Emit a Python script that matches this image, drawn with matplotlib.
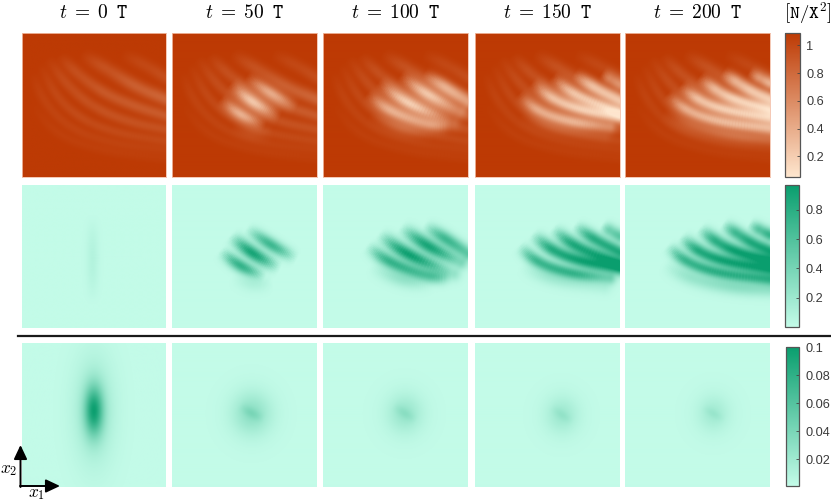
import numpy as np
import matplotlib
matplotlib.use("Agg")
import matplotlib.pyplot as plt
from matplotlib.cm import ScalarMappable
from matplotlib.colors import LinearSegmentedColormap, Normalize

W, H = 831, 504
plt.rcParams['mathtext.fontset'] = 'cm'
plt.rcParams['font.family'] = ['Liberation Sans', 'DejaVu Sans']

titles = ['$t\\;=\\;0\\;\\;\\mathtt{T}$', '$t\\;=\\;50\\;\\;\\mathtt{T}$', '$t\\;=\\;100\\;\\;\\mathtt{T}$',
          '$t\\;=\\;150\\;\\;\\mathtt{T}$', '$t\\;=\\;200\\;\\;\\mathtt{T}$']

# panel edges in pixels
col_edges = [(22, 166), (172, 317), (323, 468), (475, 620), (625, 770)]
row_edges = [(33, 177), (185, 328), (343, 487)]
bar_edges = [(785, 800, 33, 177), (785, 799, 185, 327), (786, 799, 347, 486)]

cmap_top = LinearSegmentedColormap.from_list('top', ['#fee6ce', '#bd3a04'])
cmap_green = LinearSegmentedColormap.from_list('green', ['#c3fbe8', '#0a9e6e'])

top_range = (0.05, 1.09)
mid_range = (0.0, 0.97)
low_range = (0.0008, 0.1)
top_ticks = [0.2, 0.4, 0.6, 0.8, 1]
mid_ticks = [0.2, 0.4, 0.6, 0.8]
low_ticks = [0.02, 0.04, 0.06, 0.08, 0.1]
top_labels = ['0.2', '0.4', '0.6', '0.8', '1']
mid_labels = ['0.2', '0.4', '0.6', '0.8']
low_labels = ['0.02', '0.04', '0.06', '0.08', '0.1']
# how much of the middle row shows up in the top row, per column
top_depth = [0.0, 0.95, 0.95, 0.95, 0.95]

# ridges: (points in panel units, x right / y down), heights, width
arcs_top = [
    ([(.68, .14), (.85, .22), (1.0, .31)], [0, .07, .12], .032),
    ([(.40, .14), (.59, .25), (.80, .38), (1.0, .46)], [0, .10, .21, .26], .034),
    ([(.25, .15), (.38, .28), (.57, .42), (.80, .515), (1.0, .575)], [0, .10, .18, .20, .20], .031),
    ([(.17, .16), (.31, .36), (.50, .52), (.75, .62), (1.0, .67)], [0, .10, .15, .15, .14], .029),
    ([(.12, .20), (.24, .45), (.43, .61), (.68, .70), (1.0, .75)], [0, .08, .11, .10, .09], .027),
    ([(.07, .26), (.15, .48), (.34, .67), (.64, .77), (1.0, .81)], [0, .06, .07, .06, .05], .027),
    ([(.06, .48), (.24, .71), (.57, .82), (1.0, .87)], [0, .04, .04, .03], .027),
]
stripes_0 = [([(.49, .20), (.49, .52), (.49, .84)], [0, .085, 0], .030)]
stripes_50 = [
    ([(.51, .30), (.68, .42), (.865, .52)], [0, .70, 0], .032),
    ([(.40, .35), (.55, .48), (.75, .585)], [0, .90, 0], .035),
    ([(.33, .455), (.47, .57), (.65, .645)], [0, .75, 0], .032),
    ([(.41, .63), (.56, .69), (.70, .675)], [0, .12, 0], .042),
]
stripes_100 = [
    ([(.69, .28), (.85, .38), (1.0, .48)], [0, .70, .45], .034),
    ([(.53, .29), (.72, .43), (.95, .54)], [0, .90, .20], .036),
    ([(.38, .34), (.58, .49), (.90, .62)], [0, .95, .10], .036),
    ([(.30, .42), (.46, .545), (.74, .645), (.90, .64)], [0, .75, .55, 0], .034),
    ([(.32, .56), (.55, .665), (.78, .685)], [0, .25, 0], .040),
]
stripes_150 = [
    ([(.87, .28), (.93, .32), (1.0, .36)], [0, .40, .55], .032),
    ([(.68, .28), (.82, .38), (1.0, .47)], [0, .80, .85], .033),
    ([(.53, .30), (.68, .43), (1.0, .55)], [0, .85, .95], .034),
    ([(.39, .34), (.54, .465), (.75, .54), (1.0, .585)], [0, .80, .95, .80], .034),
    ([(.30, .42), (.43, .545), (.66, .62), (.93, .65)], [0, .70, .75, .30], .032),
    ([(.31, .56), (.54, .655), (.89, .70)], [0, .20, .10], .040),
]
stripes_200 = [
    ([(.85, .27), (.93, .315), (1.0, .35)], [0, .50, .75], .031),
    ([(.67, .27), (.77, .34), (.88, .41), (1.0, .46)], [0, .60, .85, .90], .033),
    ([(.51, .30), (.63, .40), (.77, .47), (1.0, .53)], [0, .70, .95, 1.0], .034),
    ([(.38, .36), (.51, .47), (.70, .54), (1.0, .59)], [0, .80, .95, .95], .034),
    ([(.29, .42), (.42, .54), (.65, .62), (1.0, .66)], [0, .70, .80, .75], .032),
    ([(.26, .55), (.47, .66), (.77, .715), (1.0, .725)], [0, .20, .30, .25], .040),
]
green_stripes = [stripes_0, stripes_50, stripes_100, stripes_150, stripes_200]

# blobs of the last row: centre x, centre y, sigma x, sigma y, height
low_blobs = [
    [(.50, .47, .045, .12, .078), (.50, .47, .10, .26, .020)],
    [(.55, .49, .09, .10, .024), (.55, .49, .14, .15, .004)],
    [(.565, .49, .08, .09, .018), (.565, .49, .13, .14, .004)],
    [(.60, .50, .075, .085, .015), (.60, .50, .12, .13, .004)],
    [(.61, .49, .07, .08, .013), (.61, .49, .12, .13, .004)],
]
low_streaks = [
    [],
    [([(.46, .43), (.55, .49), (.64, .53)], [0, .012, 0], .024)],
    [([(.48, .43), (.565, .49), (.65, .54)], [0, .009, 0], .024)],
    [([(.52, .44), (.60, .50), (.68, .55)], [0, .007, 0], .022)],
    [([(.53, .44), (.61, .49), (.69, .54)], [0, .006, 0], .020)],
]


def chaikin(pts, n=4):
    pts = np.array(pts, float)
    for _ in range(n):
        q = 0.75 * pts[:-1] + 0.25 * pts[1:]
        r = 0.25 * pts[:-1] + 0.75 * pts[1:]
        mid = np.empty((2 * len(q), pts.shape[1]))
        mid[0::2] = q
        mid[1::2] = r
        pts = np.vstack([pts[0], mid, pts[-1]])
    return pts


def ridge_field(ridges, n=145, p=1.5):
    c = (np.arange(n) + .5) / n
    xx, yy = np.meshgrid(c, c)
    out = np.zeros((n, n))
    for pts, heights, width in ridges:
        idx = np.arange(len(pts), dtype=float)
        line = chaikin(np.column_stack([pts, idx]))
        # smooth step between the heights read at the control points
        k = np.clip(np.floor(line[:, 2]).astype(int), 0, len(pts) - 2)
        f = line[:, 2] - k
        f = f * f * (3 - 2 * f)
        hs = np.array(heights, float)
        h = hs[k] * (1 - f) + hs[k + 1] * f
        h = hs.max() * (h / hs.max())**0.6
        d2 = (xx[..., None] - line[:, 0])**2 + (yy[..., None] - line[:, 1])**2
        near = np.argmin(d2, axis=2)
        out += (h[near] * np.exp(-np.min(d2, axis=2) / (2 * width**2)))**p
    return out**(1 / p)


def blob_field(blobs, n=145):
    c = (np.arange(n) + .5) / n
    xx, yy = np.meshgrid(c, c)
    out = np.zeros((n, n))
    for cx, cy, sx, sy, height in blobs:
        out += height * np.exp(-((xx - cx)**2 / (2 * sx**2) + (yy - cy)**2 / (2 * sy**2)))
    return out


def px_axes(fig, x0, x1, y0, y1):
    return fig.add_axes([x0 / W, 1 - y1 / H, (x1 - x0) / W, (y1 - y0) / H])


fig = plt.figure(figsize=(W / 100, H / 100), dpi=100)
background = ridge_field(arcs_top)

for j, (x0, x1) in enumerate(col_edges):
    green = ridge_field(green_stripes[j])
    top = top_range[1] - background * (1 - np.clip(green, 0, 1)) - green * top_depth[j]
    low = low_range[0] + blob_field(low_blobs[j]) + ridge_field(low_streaks[j])
    fields = [top, green, low]
    cmaps = [cmap_top, cmap_green, cmap_green]
    ranges = [top_range, mid_range, low_range]
    for i, (y0, y1) in enumerate(row_edges):
        ax = px_axes(fig, x0, x1, y0, y1)
        ax.imshow(fields[i], cmap=cmaps[i], vmin=ranges[i][0], vmax=ranges[i][1],
                  extent=[0, 1, 1, 0], aspect='auto', interpolation='bilinear')
        ax.set_xticks([])
        ax.set_yticks([])
        for s in ax.spines.values():
            if i == 0:
                s.set_color('#f2bfa8')
                s.set_linewidth(0.6)
            else:
                s.set_visible(False)
    fig.text((x0 + x1) / 2 / W, 1 - 13 / H, titles[j], ha='center', va='center', fontsize=14)

fig.text(808 / W, 1 - 13 / H, '$[\\mathtt{N}/\\mathtt{X}^2]$', ha='center', va='center', fontsize=13.5)

# colorbars
bars = zip(bar_edges, [cmap_top, cmap_green, cmap_green], [top_range, mid_range, low_range],
           [top_ticks, mid_ticks, low_ticks], [top_labels, mid_labels, low_labels])
for (x0, x1, y0, y1), cm, rng, ticks, labels in bars:
    cax = px_axes(fig, x0, x1, y0, y1)
    cb = fig.colorbar(ScalarMappable(Normalize(*rng), cm), cax=cax)
    cb.set_ticks(ticks)
    cb.set_ticklabels(labels)
    cax.tick_params(direction='in', length=2, width=0.6, color='#444444', labelcolor='#3a3a3a',
                    labelsize=9.2, pad=4.5)
    cb.outline.set_edgecolor('#555555')
    cb.outline.set_linewidth(0.9)

# separator line
fig.add_artist(plt.Line2D([18 / W, 1], [1 - 336 / H, 1 - 336 / H], color='#1a1a1a', lw=1.6))

# axis arrows
overlay = fig.add_axes([0, 0, 1, 1])
overlay.set_xlim(0, W)
overlay.set_ylim(H, 0)
overlay.axis('off')
overlay.patch.set_alpha(0)
arrow = dict(arrowstyle='-|>,head_width=0.4,head_length=0.85', color='black', lw=1.4,
             shrinkA=0, shrinkB=0)
overlay.annotate('', xy=(20.5, 445), xytext=(20.5, 487), arrowprops=arrow)
overlay.annotate('', xy=(60, 486), xytext=(20, 486), arrowprops=arrow)
overlay.text(9, 470, '$x_2$', ha='center', va='center', fontsize=12.5)
overlay.text(37, 494, '$x_1$', ha='center', va='center', fontsize=12.5)

fig.savefig('out.png', dpi=100)
plt.close(fig)
